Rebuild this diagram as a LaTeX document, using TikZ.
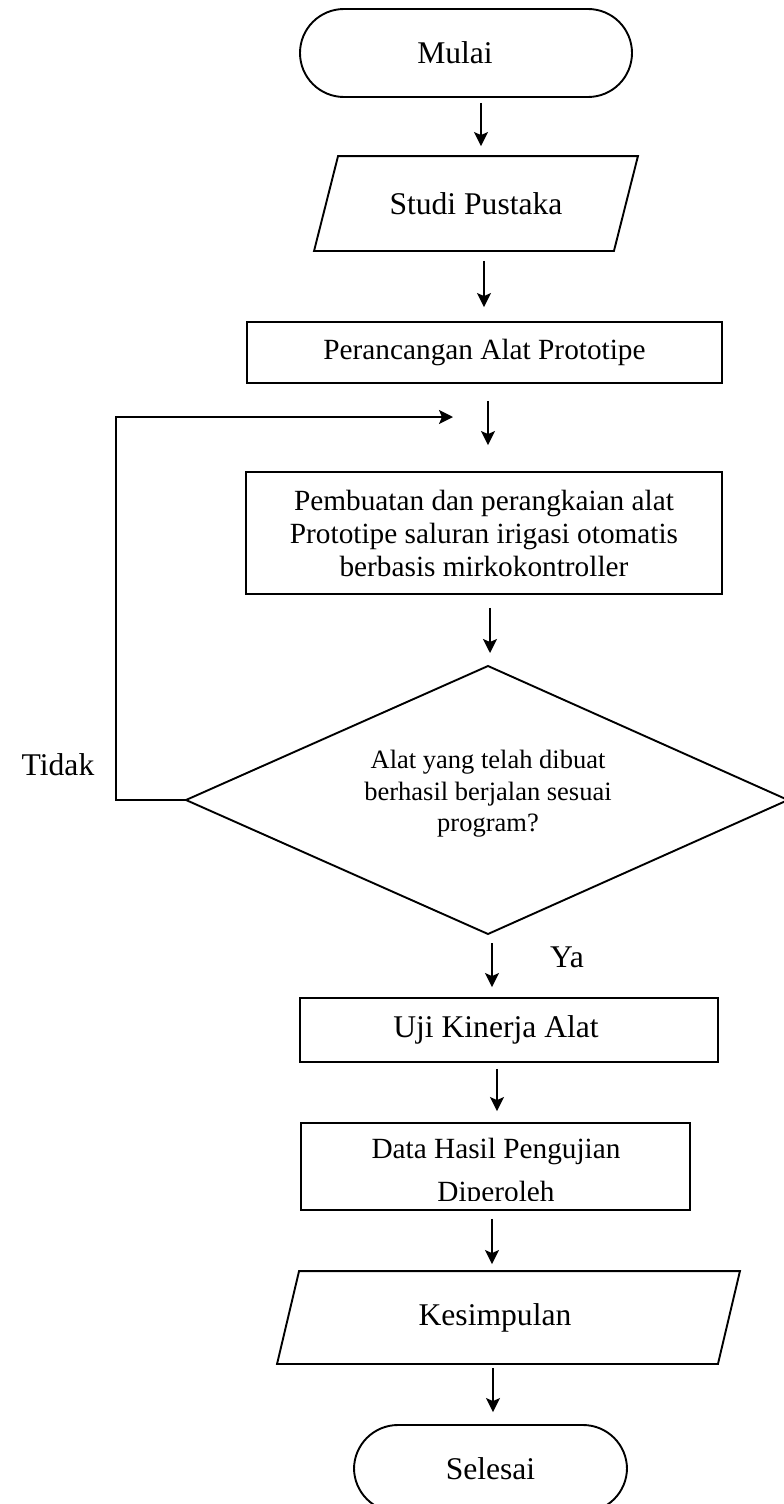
\documentclass[tikz,border=0pt]{standalone}
\usepackage{fontspec}
\setmainfont{Liberation Serif}
\usetikzlibrary{arrows.meta}
\newcommand\FontBig{\fontsize{31.6pt}{38pt}\selectfont}
\newcommand\FontMid{\fontsize{29.3pt}{33pt}\selectfont}
\newcommand\FontSmall{\fontsize{26.5pt}{31.5pt}\selectfont}
\begin{document}
\begin{tikzpicture}[x=1pt,y=-1pt,line width=1.9pt,
  shapebox/.style={draw, rectangle, inner sep=0pt},
  plainbox/.style={rectangle, inner sep=0pt},
  termbox/.style={draw, rectangle, rounded corners=44pt, inner sep=0pt},
  arr/.style={-{Stealth[length=14pt,width=14pt,inset=3pt]}},
  lbl/.style={inner sep=0pt, font=\FontBig}]
\useasboundingbox (0,0) rectangle (784,1504);

% Mulai
\node[termbox, minimum width=332pt, minimum height=88pt, font=\FontBig] (mulai) at (466,53) {\hspace*{-22pt}Mulai};

% Studi Pustaka (parallelogram)
\node[plainbox, minimum width=298pt, minimum height=93pt, font=\FontBig] (studi) at (476,203.5) {Studi Pustaka};
\draw ([xshift=12pt]studi.north west) -- ([xshift=12pt]studi.north east)
  -- ([xshift=-12pt]studi.south east) -- ([xshift=-12pt]studi.south west) -- cycle;

% Perancangan
\node[shapebox, minimum width=475pt, minimum height=61pt, font=\FontMid] (peran) at (484.5,352.5) {Perancangan Alat Prototipe};

% Pembuatan
\node[shapebox, minimum width=476pt, minimum height=122pt, font=\FontMid, align=center] (pemb) at (484,533)
  {Pembuatan dan perangkaian alat\\Prototipe saluran irigasi otomatis\\berbasis mirkokontroller};

% Decision
\coordinate (dect) at (488,666);
\coordinate (decr) at (788,800);
\coordinate (decb) at (488,934);
\coordinate (decl) at (186,800);
\draw (dect) -- (decr) -- (decb) -- (decl) -- cycle;
\node[plainbox, font=\FontSmall, align=center] (dec) at (488,794)
  {Alat yang telah dibuat\\berhasil berjalan sesuai\\program?};

% Uji Kinerja
\node[shapebox, minimum width=418pt, minimum height=64pt, font=\FontBig] (uji) at (509,1030) {\hspace*{-26pt}Uji Kinerja Alat};

% Data Hasil
\node[shapebox, minimum width=389pt, minimum height=87pt] (data) at (495.5,1166.5) {};
\begin{scope}
  \clip ([xshift=1pt]data.north west) rectangle ([yshift=10pt]data.south east);
  \node[plainbox, font=\FontMid, align=center] (datatxt) at (496,1173)
    {Data Hasil Pengujian\\[10pt]Diperoleh};
\end{scope}

% Kesimpulan (parallelogram)
\node[plainbox, minimum width=439pt, minimum height=91pt, font=\FontBig] (kes) at (508.5,1317.5) {\hspace*{-27pt}Kesimpulan};
\draw ([xshift=11pt]kes.north west) -- ([xshift=11pt]kes.north east)
  -- ([xshift=-11pt]kes.south east) -- ([xshift=-11pt]kes.south west) -- cycle;

% Selesai
\node[termbox, minimum width=273pt, minimum height=87pt, font=\FontBig] (sel) at (490.5,1468.5) {Selesai};

% Labels
\node[lbl] (tidak) at (58,765) {Tidak};
\node[lbl] (ya) at (567,957) {Ya};

% Connectors
\draw[arr] ([xshift=15pt,yshift=-5pt]mulai.south) -- ([xshift=5pt,yshift=10pt]studi.north);
\draw[arr] ([xshift=8pt,yshift=-10pt]studi.south) -- ([xshift=-0.5pt,yshift=14pt]peran.north);
\draw[arr] ([xshift=3.5pt,yshift=-17pt]peran.south) -- ([xshift=4pt,yshift=26pt]pemb.north);
\draw[arr] ([xshift=6pt,yshift=-13pt]pemb.south) -- ([xshift=2pt,yshift=13pt]dect);
\draw[arr] ([xshift=4pt,yshift=-9pt]decb) -- ([xshift=-17pt,yshift=10pt]uji.north);
\draw[arr] ([xshift=-12pt,yshift=-6pt]uji.south) -- ([xshift=1.5pt,yshift=11pt]data.north);
\draw[arr] ([xshift=-3.5pt,yshift=-8pt]data.south) -- ([xshift=-16.5pt,yshift=7pt]kes.north);
\draw[arr] ([xshift=-15.5pt,yshift=-4pt]kes.south) -- ([xshift=2.5pt,yshift=12pt]sel.north);

% Loop back (Tidak)
\coordinate (loopend) at (453,417);
\draw[arr] (decl) -- ++(-70,0) |- (loopend);
\end{tikzpicture}
\end{document}
